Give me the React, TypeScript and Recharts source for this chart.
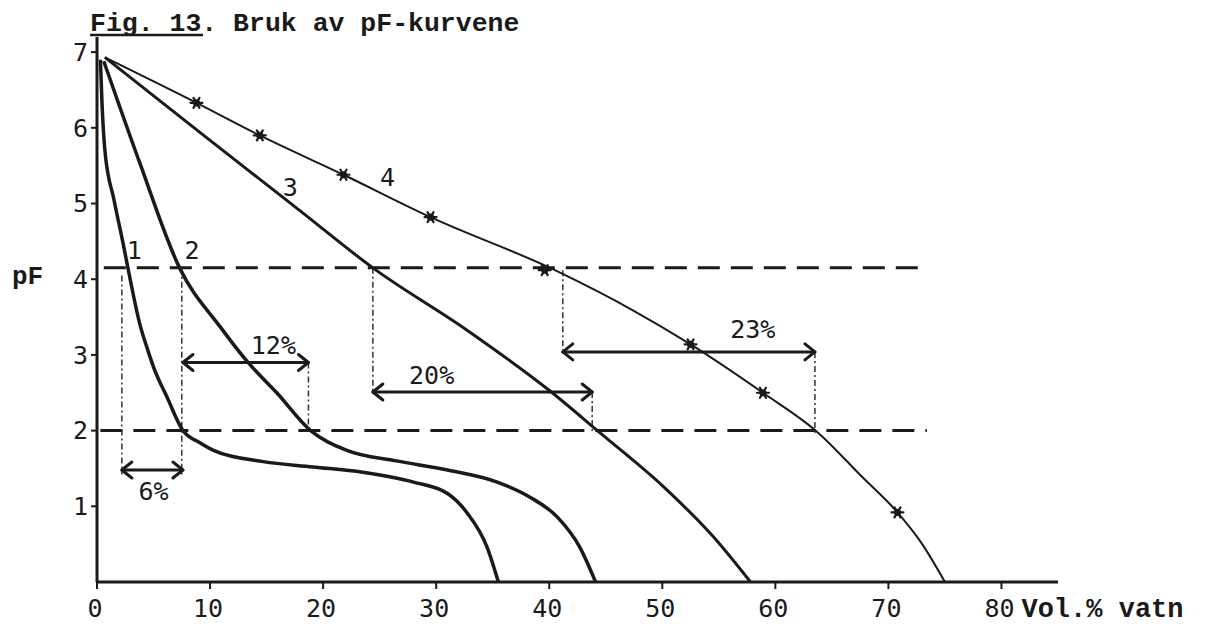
import { ComposedChart, Line, Scatter, XAxis, YAxis, ReferenceLine } from "recharts";

const INK = "#1a1a1a";
const MONO = "'DejaVu Sans Mono', monospace";
const TYPE = "'Liberation Mono', 'Courier New', monospace";

// pF-kurver (x = Vol.% vatn, y = pF)
const curve1 = [
  { x: 0.3, y: 6.9 }, { x: 0.45, y: 6.3 }, { x: 0.7, y: 5.7 }, { x: 1.5, y: 5.05 },
  { x: 2.3, y: 4.48 }, { x: 2.8, y: 4.1 }, { x: 3.8, y: 3.4 }, { x: 4.5, y: 3.06 },
  { x: 5.0, y: 2.84 }, { x: 6.2, y: 2.44 }, { x: 7.6, y: 2.0 }, { x: 9.1, y: 1.84 },
  { x: 10.3, y: 1.74 }, { x: 14.7, y: 1.59 }, { x: 19.1, y: 1.52 }, { x: 23.5, y: 1.45 },
  { x: 28, y: 1.32 }, { x: 31, y: 1.17 }, { x: 32.7, y: 0.92 }, { x: 34.5, y: 0.46 },
  { x: 35.5, y: 0 },
];
const curve2 = [
  { x: 0.6, y: 6.88 }, { x: 3.8, y: 5.53 }, { x: 7.3, y: 4.15 }, { x: 10.9, y: 3.37 },
  { x: 13.3, y: 2.91 }, { x: 15.9, y: 2.5 }, { x: 18.9, y: 2.0 }, { x: 22.1, y: 1.74 },
  { x: 26.5, y: 1.6 }, { x: 31, y: 1.48 }, { x: 35.4, y: 1.32 }, { x: 38.3, y: 1.12 },
  { x: 40.7, y: 0.86 }, { x: 42.7, y: 0.46 }, { x: 44.1, y: 0 },
];
const curve3 = [
  { x: 0.7, y: 6.93 }, { x: 9.1, y: 5.94 }, { x: 18, y: 4.9 },
  { x: 24.4, y: 4.15 }, { x: 32.7, y: 3.33 }, { x: 40.1, y: 2.52 }, { x: 44.5, y: 1.97 },
  { x: 50.1, y: 1.26 }, { x: 54.5, y: 0.6 }, { x: 57.8, y: 0 },
];
const curve4 = [
  { x: 0.7, y: 6.93 }, { x: 8.8, y: 6.33 }, { x: 14.4, y: 5.9 }, { x: 21.8, y: 5.38 },
  { x: 29.5, y: 4.82 }, { x: 40.5, y: 4.12 }, { x: 47.4, y: 3.59 }, { x: 52.5, y: 3.14 },
  { x: 58.9, y: 2.5 }, { x: 63.8, y: 1.97 }, { x: 67.6, y: 1.4 }, { x: 70.8, y: 0.92 },
  { x: 72.9, y: 0.52 }, { x: 75, y: 0 },
];
const curve4Marks = [
  { x: 8.8, y: 6.33 }, { x: 14.4, y: 5.9 }, { x: 21.8, y: 5.38 }, { x: 29.5, y: 4.82 },
  { x: 39.6, y: 4.12 }, { x: 52.5, y: 3.14 }, { x: 58.9, y: 2.5 }, { x: 70.8, y: 0.92 },
];

const xTicks = [0, 10, 20, 30, 40, 50, 60, 70, 80];
const yTicks = [1, 2, 3, 4, 5, 6, 7];

// visningsnivåer (stiplet)
const levels = [
  { y: 4.15, from: 0.6, to: 73 },
  { y: 2.0, from: 0.3, to: 73.4 },
];
// loddrette hjelpelinjer
const guides = [
  { x: 2.2, top: 4.05, bottom: 1.42 },
  { x: 7.5, top: 4.15, bottom: 1.42 },
  { x: 18.7, top: 2.9, bottom: 2.0 },
  { x: 24.4, top: 4.15, bottom: 2.51 },
  { x: 43.8, top: 2.51, bottom: 1.97 },
  { x: 41.2, top: 4.12, bottom: 3.04 },
  { x: 63.5, top: 3.04, bottom: 1.97 },
];
const arrows = [
  { y: 1.48, from: 2.2, to: 7.6 },
  { y: 2.9, from: 7.6, to: 18.7 },
  { y: 2.51, from: 24.4, to: 43.8 },
  { y: 3.04, from: 41.2, to: 63.5 },
];
const notes = [
  { x: 3.3, y: 4.39, text: "1" },
  { x: 8.4, y: 4.39, text: "2" },
  { x: 17.1, y: 5.22, text: "3" },
  { x: 25.7, y: 5.35, text: "4" },
  { x: 5.0, y: 1.2, text: "6%" },
  { x: 15.6, y: 3.13, text: "12%" },
  { x: 29.6, y: 2.73, text: "20%" },
  { x: 58.0, y: 3.34, text: "23%" },
];

const XTick = ({ x, y, payload }: any) => (
  <g>
    <text x={x - 2} y={y + 26} textAnchor="middle" fontFamily={MONO} fontSize={25} fill={INK}>
      {payload.value}
    </text>
    {payload.value === 80 && (
      <text x={x + 20} y={y + 26} fontFamily={TYPE} fontWeight="bold" fontSize={27} fill={INK}>
        Vol.% vatn
      </text>
    )}
  </g>
);

const ArrowShape = (props: any) => {
  const { x1, y1, x2, y2 } = props;
  const w = 10;
  const h = 8;
  return (
    <g stroke={INK} strokeWidth={3} fill="none" strokeLinecap="round" strokeLinejoin="round">
      <line x1={x1} y1={y1} x2={x2} y2={y2} />
      <polyline points={`${x1 + w},${y1 - h} ${x1},${y1} ${x1 + w},${y1 + h}`} />
      <polyline points={`${x2 - w},${y2 - h} ${x2},${y2} ${x2 - w},${y2 + h}`} />
    </g>
  );
};

const StarMark = ({ cx, cy }: any) => (
  <g stroke={INK} strokeWidth={2.2} strokeLinecap="round">
    <line x1={cx - 6} y1={cy} x2={cx + 6} y2={cy} />
    <line x1={cx - 3} y1={cy - 5} x2={cx + 3} y2={cy + 5} />
    <line x1={cx + 3} y1={cy - 5} x2={cx - 3} y2={cy + 5} />
    <circle cx={cx} cy={cy} r={2.5} fill={INK} />
  </g>
);

const NoteText = ({ cx, cy, payload }: any) => (
  <text x={cx} y={cy} dy="0.36em" textAnchor="middle" fontFamily={MONO} fontSize={25} fill={INK}>
    {payload.text}
  </text>
);

export default function App() {
  return (
    <div style={{ position: "absolute", left: 0, top: 0, width: 1206, height: 638, background: "#fff" }}>
      <ComposedChart width={1206} height={638} margin={{ top: 37, right: 148, bottom: 0, left: 0 }}>
        <XAxis
          type="number"
          dataKey="x"
          domain={[0, 85]}
          ticks={xTicks}
          interval={0}
          height={56}
          axisLine={{ stroke: INK, strokeWidth: 3 }}
          tickLine={{ stroke: INK, strokeWidth: 2 }}
          tickSize={7}
          tick={<XTick />}
        />
        <YAxis
          type="number"
          dataKey="y"
          domain={[0, 7.2]}
          ticks={yTicks}
          interval={0}
          width={97}
          axisLine={{ stroke: INK, strokeWidth: 3 }}
          tickLine={{ stroke: INK, strokeWidth: 2 }}
          tickSize={6}
          tickMargin={3}
          tick={{ fontFamily: MONO, fontSize: 25, fill: INK }}
        />

        {levels.map((l, i) => (
          <ReferenceLine
            key={"lv" + i}
            segment={[{ x: l.from, y: l.y }, { x: l.to, y: l.y }]}
            stroke={INK}
            strokeWidth={3}
            strokeDasharray="22 11"
          />
        ))}
        {guides.map((g, i) => (
          <ReferenceLine
            key={"gd" + i}
            segment={[{ x: g.x, y: g.top }, { x: g.x, y: g.bottom }]}
            stroke="#333"
            strokeWidth={1.5}
            strokeDasharray="6 3 2 3"
          />
        ))}
        <ReferenceLine
          segment={[{ x: 40.6, y: 2.47 }, { x: 44.2, y: 2.0 }]}
          stroke="#555"
          strokeWidth={1}
          strokeDasharray="2 3"
        />
        {arrows.map((a, i) => (
          <ReferenceLine
            key={"ar" + i}
            segment={[{ x: a.from, y: a.y }, { x: a.to, y: a.y }]}
            shape={ArrowShape}
          />
        ))}

        <Line data={curve1} dataKey="y" type="monotone" stroke={INK} strokeWidth={3.5} dot={false} activeDot={false} isAnimationActive={false} />
        <Line data={curve2} dataKey="y" type="monotone" stroke={INK} strokeWidth={3.5} dot={false} activeDot={false} isAnimationActive={false} />
        <Line data={curve3} dataKey="y" type="monotone" stroke={INK} strokeWidth={3} dot={false} activeDot={false} isAnimationActive={false} />
        <Line data={curve4} dataKey="y" type="monotone" stroke={INK} strokeWidth={2} dot={false} activeDot={false} isAnimationActive={false} />
        <Scatter data={curve4Marks} dataKey="y" shape={StarMark} isAnimationActive={false} />
        <Scatter data={notes} dataKey="y" shape={NoteText} isAnimationActive={false} />
      </ComposedChart>

      <svg width={1206} height={638} style={{ position: "absolute", left: 0, top: 0, pointerEvents: "none" }}>
        <text x={90} y={31} fontFamily={TYPE} fontWeight="bold" fontSize={26.5} fill={INK}>
          Fig. 13. Bruk av pF-kurvene
        </text>
        <line x1={90} y1={35} x2={203} y2={35} stroke={INK} strokeWidth={2.5} />
        <text x={12} y={284} fontFamily={TYPE} fontWeight="bold" fontSize={26} fill={INK}>
          pF
        </text>
      </svg>
    </div>
  );
}
